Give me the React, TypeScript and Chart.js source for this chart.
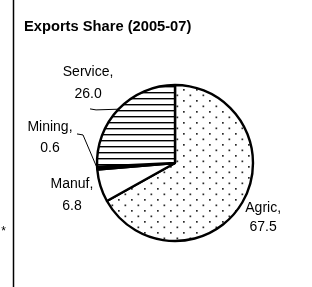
import React, { useEffect, useRef } from "react";
import { Chart, registerables } from "chart.js";

Chart.register(...registerables);

// ---- data ----
const categories = ["Agric", "Manuf", "Mining", "Service"];
const shares = [67.5, 6.8, 0.6, 26.0];
const chartTitle = "Exports Share (2005-07)";
const footnoteMark = "*";

// ---- label placement (relative to each slice) ----
const labelRadiusFactor = [1.33, 1.385, 1.636, 1.515];
const labelAngleShiftDeg = [1.4, -0.5, 15.4, -1.0];
const labelLineGap = [19, 22, 21, 22];
// leader: bend point as radius factor + angle shift, with a short horizontal stub
const leaderBend: ({ r: number; shift: number; stub: number } | null)[] = [
  null,
  null,
  { r: 1.233, shift: 20.8, stub: 6 },
  { r: 1.22, shift: -9.7, stub: 6 },
];

const FONT = "Arial, 'Liberation Sans', Helvetica, sans-serif";

function makeDotPattern(ctx: CanvasRenderingContext2D) {
  const c = document.createElement("canvas");
  c.width = 13;
  c.height = 11;
  const t = c.getContext("2d")!;
  t.fillStyle = "#ffffff";
  t.fillRect(0, 0, 13, 11);
  t.fillStyle = "#2a2a2a";
  t.fillRect(1, 1, 1.7, 1.7);
  t.fillRect(7.5, 6.5, 1.7, 1.7);
  return ctx.createPattern(c, "repeat")!;
}

function makeLinePattern(ctx: CanvasRenderingContext2D) {
  const c = document.createElement("canvas");
  c.width = 8;
  c.height = 6;
  const t = c.getContext("2d")!;
  t.fillStyle = "#ffffff";
  t.fillRect(0, 0, 8, 6);
  t.fillStyle = "#000000";
  t.fillRect(0, 2, 8, 1.4);
  return ctx.createPattern(c, "repeat")!;
}

const labelPlugin = {
  id: "pieLabels",
  afterDatasetsDraw(chart: any) {
    const ctx: CanvasRenderingContext2D = chart.ctx;
    const meta = chart.getDatasetMeta(0);
    ctx.save();
    meta.data.forEach((arc: any, i: number) => {
      const { x, y, startAngle, endAngle, outerRadius } = arc.getProps(
        ["x", "y", "startAngle", "endAngle", "outerRadius"],
        true
      );
      const mid = (startAngle + endAngle) / 2;
      const a = mid + (labelAngleShiftDeg[i] * Math.PI) / 180;
      const r = outerRadius * labelRadiusFactor[i];
      const lx = x + Math.cos(a) * r;
      const ly = y + Math.sin(a) * r;
      ctx.fillStyle = "#000";
      ctx.font = `14px ${FONT}`;
      ctx.textAlign = "center";
      ctx.textBaseline = "middle";
      const gap = labelLineGap[i];
      ctx.fillText(categories[i] + ",", lx, ly - gap / 2);
      ctx.fillText(shares[i].toFixed(1), lx, ly + gap / 2);

      const lb = leaderBend[i];
      if (lb) {
        const ea = mid;
        const ex = x + Math.cos(ea) * outerRadius;
        const ey = y + Math.sin(ea) * outerRadius;
        const ba = mid + (lb.shift * Math.PI) / 180;
        const bx = x + Math.cos(ba) * outerRadius * lb.r;
        const by = y + Math.sin(ba) * outerRadius * lb.r;
        ctx.strokeStyle = "#000";
        ctx.lineWidth = 1;
        ctx.beginPath();
        ctx.moveTo(bx - lb.stub, by - 1);
        ctx.lineTo(bx, by);
        ctx.lineTo(ex, ey);
        ctx.stroke();
      }
    });
    ctx.restore();
  },
  afterDraw(chart: any) {
    const ctx: CanvasRenderingContext2D = chart.ctx;
    ctx.save();
    // title
    ctx.fillStyle = "#000";
    ctx.font = `bold 14.7px ${FONT}`;
    ctx.textAlign = "left";
    ctx.textBaseline = "alphabetic";
    ctx.fillText(chartTitle, 24, 31);
    // left frame line
    ctx.strokeStyle = "#000";
    ctx.lineWidth = 1.5;
    ctx.beginPath();
    ctx.moveTo(13.5, 0);
    ctx.lineTo(13.5, chart.height);
    ctx.stroke();
    // footnote mark
    ctx.font = `12px ${FONT}`;
    ctx.textAlign = "center";
    ctx.fillText(footnoteMark, 3.5, 235);
    ctx.restore();
  },
};

export default function App() {
  const ref = useRef<HTMLCanvasElement | null>(null);
  useEffect(() => {
    const canvas = ref.current!;
    const ctx = canvas.getContext("2d")!;
    const fills = [makeDotPattern(ctx), "#ffffff", "#000000", makeLinePattern(ctx)];
    const chart = new Chart(canvas, {
      type: "pie",
      data: {
        labels: categories,
        datasets: [
          {
            data: shares,
            backgroundColor: fills as any,
            borderColor: "#000000",
            borderWidth: 2.4,
            radius: 78,
          } as any,
        ],
      },
      options: {
        animation: false,
        responsive: false,
        events: [],
        layout: { padding: { left: 60, right: 22, top: 60, bottom: 21 } },
        plugins: {
          legend: { display: false },
          title: { display: false },
          tooltip: { enabled: false },
        },
      },
      plugins: [labelPlugin],
    });
    return () => chart.destroy();
  }, []);
  return (
    <div style={{ position: "fixed", left: 0, top: 0, width: 312, height: 287, background: "#fff" }}>
      <canvas ref={ref} width={312} height={287} style={{ display: "block" }} />
    </div>
  );
}
